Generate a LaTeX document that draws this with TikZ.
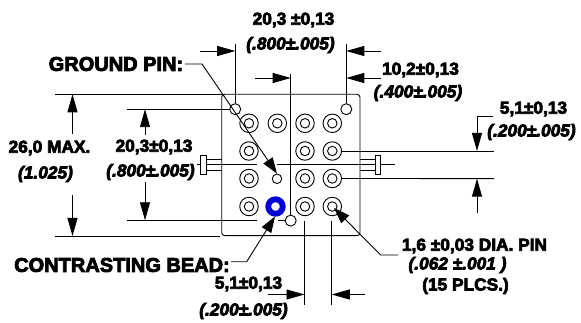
\documentclass[tikz,border=0pt]{standalone}
\usepackage{fontspec}
\newfontfamily\hvb{Liberation Sans Bold}[FakeBold=4]
\newfontfamily\hvi{Liberation Sans Bold Italic}[FakeBold=4]
\usetikzlibrary{arrows.meta}
\tikzset{
  ln/.style={line width=0.9pt,draw=black},
  dimarrow/.style={ln,-{Triangle[length=18pt,width=10pt]}},
  leadarrow/.style={ln,-{Triangle[length=16pt,width=11pt]}},
  biglbl/.style={inner sep=0pt,font=\fontsize{20}{20}\hvb},
  lbl/.style={inner sep=0pt,font=\fontsize{17.3}{18}\hvb},
  ilbl/.style={inner sep=0pt,font=\fontsize{17.3}{18}\hvi},
  pinouter/.style={circle,ln,minimum size=18.5pt,inner sep=0pt,fill=white},
  pininner/.style={circle,ln,minimum size=9.5pt,inner sep=0pt},
  hole/.style={circle,ln,minimum size=11pt,inner sep=0pt,fill=white},
  tabbox/.style={ln,fill=white,minimum width=5.5pt,minimum height=19pt,inner sep=0pt,draw},
}
\begin{document}
\begin{tikzpicture}[x=1pt,y=-1pt]
\useasboundingbox (0,0) rectangle (581,323);
% body
\draw[ln,rounded corners=3pt] (221.7,94.3) rectangle (360,235.7);
% centre lines
\coordinate (cl1) at (197,164.3); \coordinate (cl2) at (257,164.3);
\coordinate (cl3) at (277,164.3); \coordinate (cl4) at (395,164.3);
\draw[ln] (cl1)--(cl2); \draw[ln] (cl3)--(cl4);
% tabs
\node[tabbox] (tabL) at (203.2,164.5) {};
\node[tabbox] (tabR) at (378,164.5) {};
\draw[ln] (206,159.5)--(221.7,159.5) (206,170)--(221.7,170);
\draw[ln] (360,159.5)--(375,159.5) (360,170)--(375,170);
% extension lines
\coordinate (topL) at (55,94.3); \coordinate (topR) at (221.7,94.3);
\coordinate (botL) at (55,236); \coordinate (botR) at (220,236);
\draw[ln] (topL)--(topR); \draw[ln] (botL)--(botR);
\coordinate (inTL) at (127,109.2); \coordinate (inBL) at (127,220.3); \coordinate (inBR) at (257,220.3);
% small holes
\node[hole] (hA) at (235.2,109.2) {};
\node[hole] (hB) at (346.3,109.2) {};
\node[hole] (hC) at (290.7,220.6) {};
\draw[ln] (inTL)--(hA.west); \draw[ln] (inBL)--(inBR); \draw[ln] (278,220.3)--(hC.west);
\coordinate (vA) at (235.2,44); \coordinate (vB) at (346.3,44); \coordinate (vC) at (290.7,74);
\draw[ln] (vA)--(hA.north); \draw[ln] (vB)--(hB.north); \draw[ln] (vC)--(hC.north);
% pins
\foreach \n/\x/\y in {a/249/123.3,b/277.3/123.3,c/305/123.3,d/332.3/123.3,
  e/249/151,f/305/151,g/332.3/151,
  h/249/178.5,i/305/178.5,j/332.3/178.5,
  k/249/206.5,l/305/206.5,m/332.3/206.5}{
  \node[pinouter] (p\n) at (\x,\y) {};
  \node[pininner] (q\n) at (\x,\y) {};
}
\node[hole,minimum size=9.5pt] (ground) at (277,178.8) {};
\node[circle,draw=blue!85!black,line width=5.8pt,minimum size=14.5pt,inner sep=0pt,fill=white] (bead) at (275.5,206.5) {};
% right extensions
\coordinate (rU) at (494,151); \coordinate (rD) at (494,178.6);
\draw[ln] (pg.east)--(rU); \draw[ln] (pj.east)--(rD);
% bottom extensions
\coordinate (bA) at (304.5,305); \coordinate (bB) at (331.8,305);
\coordinate (bA0) at (304.5,221.5); \coordinate (bB0) at (331.8,221.5);
\draw[ln] (bA0)--(bA); \draw[ln] (bB0)--(bB);
% dimension arrows
\coordinate (t1) at (200,51); \coordinate (t1e) at (235.2,51);
\coordinate (t2) at (381,51); \coordinate (t2e) at (346.3,51);
\coordinate (t3) at (255,78); \coordinate (t3e) at (290.7,78);
\coordinate (t4) at (381,78); \coordinate (t4e) at (346.3,78);
\draw[dimarrow] (t1)--(t1e); \draw[dimarrow] (t2)--(t2e);
\draw[dimarrow] (t3)--(t3e); \draw[dimarrow] (t4)--(t4e);
\coordinate (l1) at (72.5,134); \coordinate (l1e) at (72.5,94.3);
\coordinate (l2) at (72.5,195); \coordinate (l2e) at (72.5,236);
\coordinate (l3) at (145,135); \coordinate (l3e) at (145,109.2);
\coordinate (l4) at (145,182); \coordinate (l4e) at (145,220.3);
\draw[dimarrow] (l1)--(l1e); \draw[dimarrow] (l2)--(l2e);
\draw[dimarrow] (l3)--(l3e); \draw[dimarrow] (l4)--(l4e);
\coordinate (r0) at (493,116); \coordinate (r1) at (477,116); \coordinate (r1e) at (477,151);
\coordinate (r2) at (477,213); \coordinate (r2e) at (477,178.6);
\draw[ln] (r0)--(r1); \draw[dimarrow] (r1)--(r1e); \draw[dimarrow] (r2)--(r2e);
\coordinate (u1) at (268,294.5); \coordinate (u1e) at (304.5,294.5);
\coordinate (u2) at (365,294.5); \coordinate (u2e) at (331.8,294.5);
\draw[dimarrow] (u1)--(u1e); \draw[dimarrow] (u2)--(u2e);
% labels
\node[biglbl] (gp) at (116,64) {GROUND PIN:};
\node[biglbl] (cb) at (122,265) {CONTRASTING BEAD:};
\node[lbl] at (293.5,20) {20,3 ±0,13};
\node[ilbl] at (290.5,45) {(.800±.005)};
\node[lbl] at (420.5,70) {10,2±0,13};
\node[ilbl] at (418,93) {(.400±.005)};
\node[lbl] at (533.5,109) {5,1±0,13};
\node[ilbl] at (531.5,132) {(.200±.005)};
\node[lbl] at (49.5,148) {26,0 MAX.};
\node[ilbl] at (45.5,174) {(1.025)};
\node[lbl] at (154,147) {20,3±0,13};
\node[ilbl] at (150.5,172) {(.800±.005)};
\node[lbl] at (248.5,284) {5,1±0,13};
\node[ilbl] at (243.5,311) {(.200±.005)};
\node[lbl] (dia) at (474.5,246) {1,6 ±0,03 DIA. PIN};
\node[ilbl] at (457.5,265) {(.062 ±.001 )};
\node[lbl] at (465.5,286) {(15 PLCS.)};
% leaders
\coordinate (g1) at (202,64); \coordinate (g0) at (185,64);
\draw[leadarrow] (g0)--(g1)--(ground.north);
\coordinate (c1) at (246.7,261.7); \coordinate (c0) at (231,261.7); \coordinate (c2) at (275,216.5);
\draw[leadarrow] (c0)--(c1)--(c2);
\coordinate (d1) at (380.7,255); \coordinate (d0) at (398,255); \coordinate (d2) at (334,208);
\draw[leadarrow] (d0)--(d1)--(d2);
\end{tikzpicture}
\end{document}
